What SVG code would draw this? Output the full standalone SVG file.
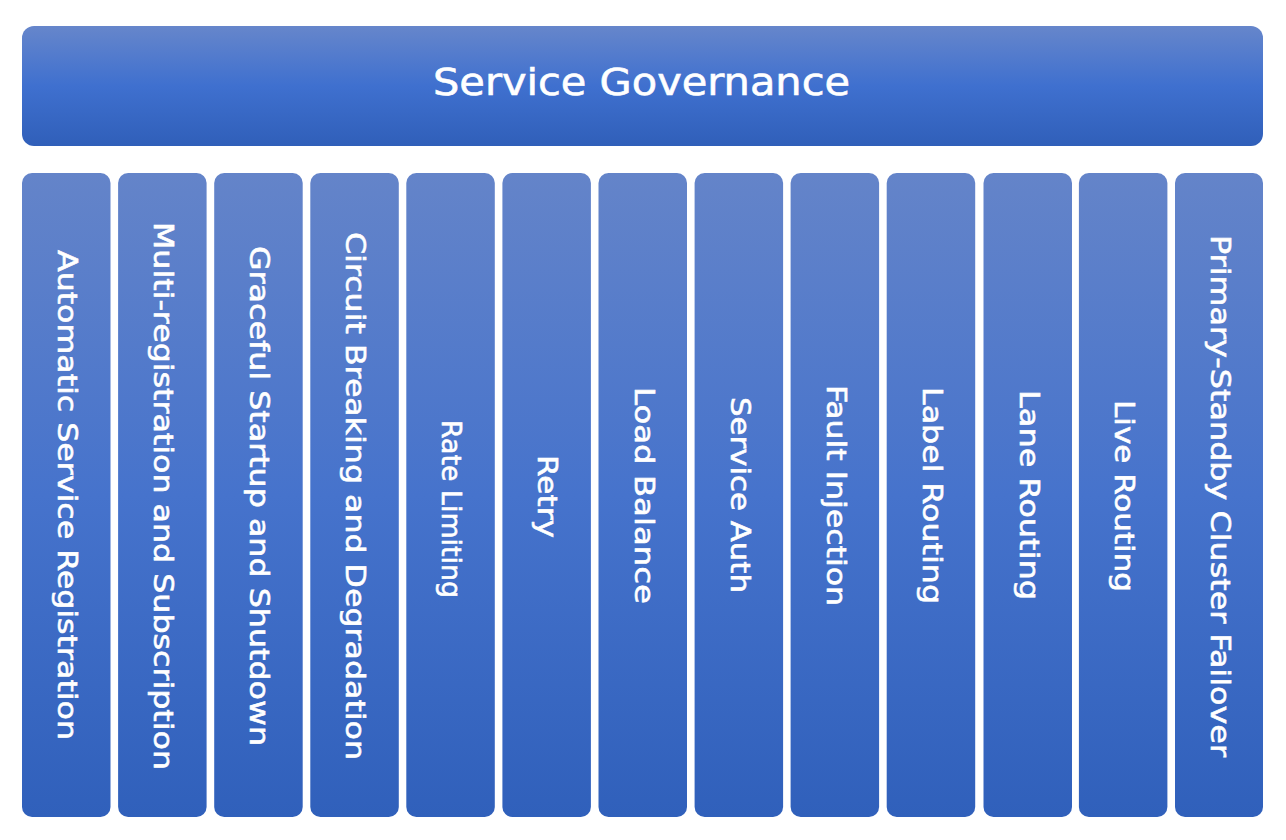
<svg xmlns="http://www.w3.org/2000/svg" width="1286" height="840" viewBox="0 0 1286 840">
<style>
.box{fill:url(#g)}
.col{fill:url(#gc)}
.t{font-family:"DejaVu Sans","Open Sans","Liberation Sans",sans-serif;fill:#fff;stroke:#fff;stroke-width:0.6;text-anchor:middle;dominant-baseline:central}
.big{font-size:38px}
.v{font-size:27px}
</style>
<defs>
<linearGradient id="g" x1="0" y1="0" x2="0" y2="1">
<stop offset="0" stop-color="#6686cb"/>
<stop offset="0.5" stop-color="#3f70cf"/>
<stop offset="1" stop-color="#305fb9"/>
</linearGradient>
<linearGradient id="gc" x1="0" y1="0" x2="0" y2="1">
<stop offset="0" stop-color="#6484c9"/>
<stop offset="0.5" stop-color="#4673cc"/>
<stop offset="1" stop-color="#3060bb"/>
</linearGradient>
</defs>
<rect width="1286" height="840" fill="#fff"/>
<g id="service-governance">
<rect class="box" x="22" y="26" width="1241" height="120" rx="12"/>
<text class="t big" x="641.5" y="82" textLength="417" lengthAdjust="spacingAndGlyphs">Service Governance</text>
</g>
<g id="c1"><rect class="col" x="22" y="173" width="88.5" height="644" rx="10"/><text class="t v" transform="translate(67.5 495) rotate(90)" textLength="490" lengthAdjust="spacingAndGlyphs">Automatic Service Registration</text></g>
<g id="c2"><rect class="col" x="118.1" y="173" width="88.5" height="644" rx="10"/><text class="t v" transform="translate(163.6 496) rotate(90)" textLength="548" lengthAdjust="spacingAndGlyphs">Multi-registration and Subscription</text></g>
<g id="c3"><rect class="col" x="214.2" y="173" width="88.5" height="644" rx="10"/><text class="t v" transform="translate(259.7 496) rotate(90)" textLength="500" lengthAdjust="spacingAndGlyphs">Graceful Startup and Shutdown</text></g>
<g id="c4"><rect class="col" x="310.3" y="173" width="88.5" height="644" rx="10"/><text class="t v" transform="translate(355.8 496) rotate(90)" textLength="528" lengthAdjust="spacingAndGlyphs">Circuit Breaking and Degradation</text></g>
<g id="c5"><rect class="col" x="406.3" y="173" width="88.5" height="644" rx="10"/><text class="t v" transform="translate(451.8 509) rotate(90)" textLength="178" lengthAdjust="spacingAndGlyphs">Rate Limiting</text></g>
<g id="c6"><rect class="col" x="502.4" y="173" width="88.5" height="644" rx="10"/><text class="t v" transform="translate(547.9 496.5) rotate(90)" textLength="83" lengthAdjust="spacingAndGlyphs">Retry</text></g>
<g id="c7"><rect class="col" x="598.5" y="173" width="88.5" height="644" rx="10"/><text class="t v" transform="translate(644 495.5) rotate(90)" textLength="217" lengthAdjust="spacingAndGlyphs">Load Balance</text></g>
<g id="c8"><rect class="col" x="694.6" y="173" width="88.5" height="644" rx="10"/><text class="t v" transform="translate(740.1 495) rotate(90)" textLength="196" lengthAdjust="spacingAndGlyphs">Service Auth</text></g>
<g id="c9"><rect class="col" x="790.6" y="173" width="88.5" height="644" rx="10"/><text class="t v" transform="translate(836.1 495.5) rotate(90)" textLength="221" lengthAdjust="spacingAndGlyphs">Fault Injection</text></g>
<g id="c10"><rect class="col" x="886.7" y="173" width="88.5" height="644" rx="10"/><text class="t v" transform="translate(932.2 495.5) rotate(90)" textLength="217" lengthAdjust="spacingAndGlyphs">Label Routing</text></g>
<g id="c11"><rect class="col" x="983.5" y="173" width="88.5" height="644" rx="10"/><text class="t v" transform="translate(1029 495) rotate(90)" textLength="210" lengthAdjust="spacingAndGlyphs">Lane Routing</text></g>
<g id="c12"><rect class="col" x="1078.9" y="173" width="88.5" height="644" rx="10"/><text class="t v" transform="translate(1124.4 496) rotate(90)" textLength="192" lengthAdjust="spacingAndGlyphs">Live Routing</text></g>
<g id="c13"><rect class="col" x="1175" y="173" width="88" height="644" rx="10"/><text class="t v" transform="translate(1220.5 496) rotate(90)" textLength="522" lengthAdjust="spacingAndGlyphs">Primary-Standby Cluster Failover</text></g>
</svg>
